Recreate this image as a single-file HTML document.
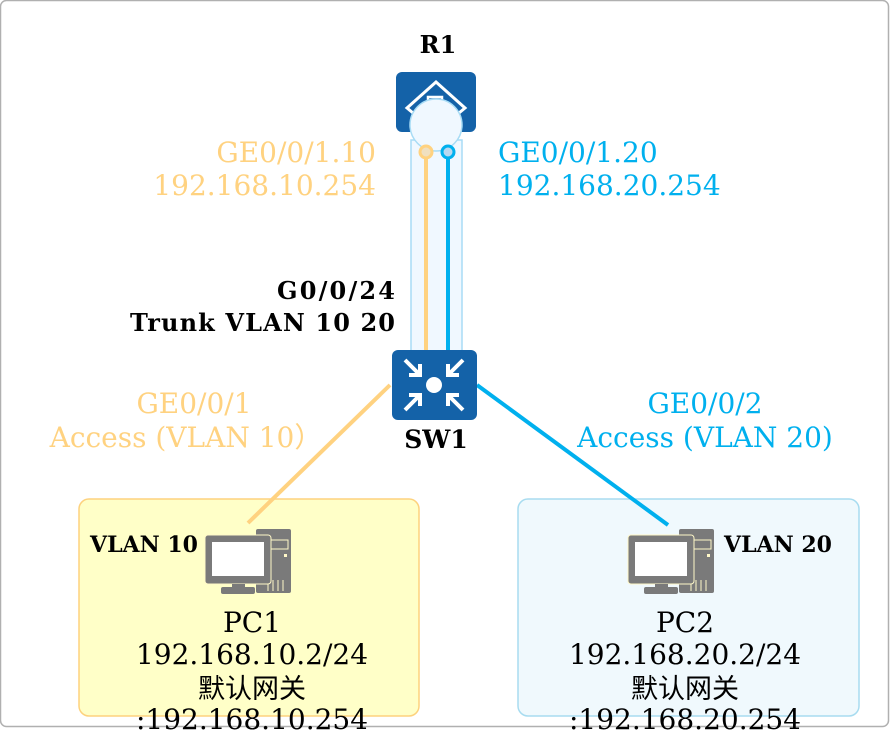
<!DOCTYPE html>
<html><head><meta charset="utf-8"><style>
html,body{margin:0;padding:0;background:#fff;}
svg{display:block;}
text{font-family:"DejaVu Serif","Liberation Serif","Noto Sans CJK SC",serif;}
</style></head><body>
<svg width="890" height="740" viewBox="0 0 890 740" xmlns="http://www.w3.org/2000/svg">
<defs>
<g id="pc">
  <rect x="256" y="529" width="35" height="64" rx="2" fill="#7a7a7a"/>
  <rect x="259" y="540" width="29" height="9" fill="none" stroke="#fff8c8" stroke-width="1"/>
  <rect x="284" y="554" width="3" height="3" fill="#fff8c8"/>
  <line x1="268" y1="580" x2="268" y2="591" stroke="#fff8c8"/>
  <line x1="273" y1="580" x2="273" y2="591" stroke="#fff8c8"/>
  <line x1="278" y1="580" x2="278" y2="591" stroke="#fff8c8"/>
  <line x1="283" y1="580" x2="283" y2="591" stroke="#fff8c8"/>
  <rect x="205" y="535" width="66" height="49" rx="3" fill="#7a7a7a" stroke="#fff8c8" stroke-width="1"/>
  <rect x="212" y="542" width="52" height="34" fill="#fff"/>
  <rect x="232" y="584" width="13" height="4" fill="#7a7a7a"/>
  <rect x="221" y="587" width="34" height="7" rx="2" fill="#7a7a7a"/>
</g>
</defs>
<rect x="0.5" y="0.5" width="888" height="726" rx="6" fill="#fff" stroke="#b0b0b0" stroke-width="1.5"/>

<rect x="79" y="499" width="340" height="217" rx="10" fill="#ffffc8" stroke="#fdd27e" stroke-width="1.5"/>
<rect x="518" y="499" width="341" height="217" rx="10" fill="#f0f9fd" stroke="#a8dcf0" stroke-width="1.5"/>

<line x1="390" y1="385" x2="248" y2="523" stroke="#ffd280" stroke-width="4"/>
<line x1="477" y1="385" x2="668" y2="525" stroke="#00b0ee" stroke-width="4"/>

<rect x="411" y="140" width="51" height="215" fill="#f0f8ff" stroke="#a8dcf5" stroke-width="1.5"/>
<rect x="396" y="72" width="80" height="60" rx="6" fill="#1462a8"/>
<path d="M436 82 L465 108 L436 132 L407 108 Z" fill="none" stroke="#fff" stroke-width="3"/>
<rect x="428" y="97" width="14" height="12" fill="none" stroke="#fff" stroke-width="2.5"/>
<circle cx="436" cy="125" r="26" fill="#f0f8ff" stroke="#a8dcf5" stroke-width="1.5"/>
<line x1="426" y1="152" x2="426" y2="352" stroke="#ffd280" stroke-width="4"/>
<line x1="448" y1="152" x2="448" y2="352" stroke="#00b0ee" stroke-width="4"/>
<circle cx="426" cy="152" r="6" fill="#f0e0c0" stroke="#ffd280" stroke-width="3"/>
<circle cx="448" cy="152" r="6" fill="#b8d8f0" stroke="#00b0ee" stroke-width="3"/>

<rect x="392" y="350" width="85" height="70" rx="6" fill="#1462a8"/>
<circle cx="434" cy="385" r="8" fill="#fff"/>
<g stroke="#fff" stroke-width="4" fill="none">
  <path d="M405 360 L420 375 M420 364 L420 375 L409 375"/>
  <path d="M463 360 L448 375 M448 364 L448 375 L459 375"/>
  <path d="M405 410 L420 395 M420 406 L420 395 L409 395"/>
  <path d="M463 410 L448 395 M448 406 L448 395 L459 395"/>
</g>

<use href="#pc"/>
<use href="#pc" transform="translate(423,0)"/>

<g font-size="28">
<text x="438" y="53" text-anchor="middle" font-weight="bold" font-size="24">R1</text>
<text x="436" y="448" text-anchor="middle" font-weight="bold" font-size="25">SW1</text>
<text x="376" y="162" text-anchor="end" fill="#ffd280">GE0/0/1.10</text>
<text x="376" y="195" text-anchor="end" fill="#ffd280">192.168.10.254</text>
<text x="498" y="162" fill="#00b0ee">GE0/0/1.20</text>
<text x="498" y="195" fill="#00b0ee">192.168.20.254</text>
<text x="395" y="299" text-anchor="end" font-weight="bold" font-size="24" textLength="118">G0/0/24</text>
<text x="395" y="331" text-anchor="end" font-weight="bold" font-size="24" textLength="265">Trunk VLAN 10 20</text>
<text x="194" y="413" text-anchor="middle" fill="#ffd280">GE0/0/1</text>
<text x="186" y="447" text-anchor="middle" fill="#ffd280">Access (VLAN 10）</text>
<text x="705" y="413" text-anchor="middle" fill="#00b0ee">GE0/0/2</text>
<text x="705" y="447" text-anchor="middle" fill="#00b0ee">Access (VLAN 20)</text>
<text x="90" y="552" font-weight="bold" font-size="22">VLAN 10</text>
<text x="724" y="552" font-weight="bold" font-size="22">VLAN 20</text>
<text x="252" y="632" text-anchor="middle">PC1</text>
<text x="252" y="664" text-anchor="middle">192.168.10.2/24</text>
<text x="252" y="698" text-anchor="middle" font-family="'Noto Sans CJK SC',sans-serif" font-size="27">默认网关</text>
<text x="252" y="729" text-anchor="middle">:192.168.10.254</text>
<text x="685" y="632" text-anchor="middle">PC2</text>
<text x="685" y="664" text-anchor="middle">192.168.20.2/24</text>
<text x="685" y="698" text-anchor="middle" font-family="'Noto Sans CJK SC',sans-serif" font-size="27">默认网关</text>
<text x="685" y="729" text-anchor="middle">:192.168.20.254</text>
</g>
</svg>
</body></html>
